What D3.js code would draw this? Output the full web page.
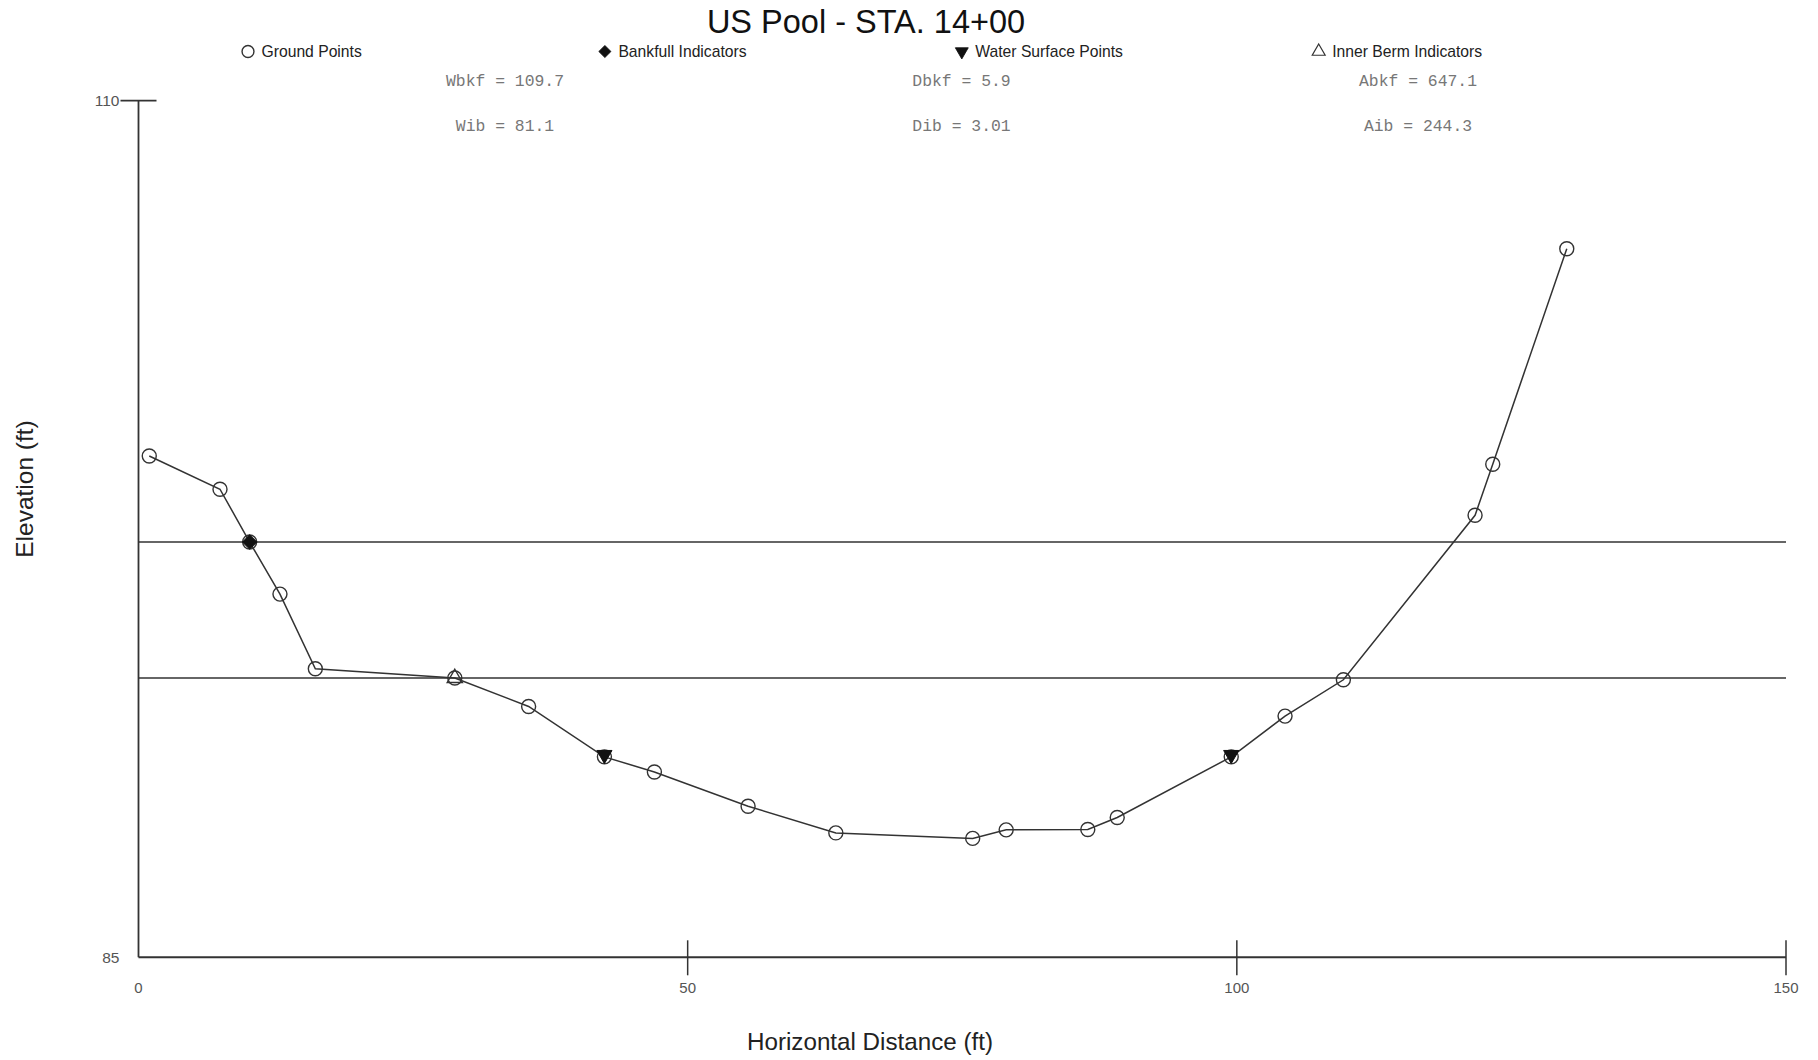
<!DOCTYPE html>
<html>
<head>
<meta charset="utf-8">
<script src="https://cdn.jsdelivr.net/npm/d3@7"></script>
<style>
  html, body { margin: 0; padding: 0; background: #fff; }
  svg { display: block; }
</style>
</head>
<body>
<svg id="chart" width="1818" height="1060"></svg>
<script>
// Cross-section survey: station (ft) and ground elevation (ft)
const stations   = [0.98, 7.42, 10.12, 12.88, 16.10, 28.80, 35.52, 42.42, 46.97, 55.50, 63.49,
                    75.95, 79.00, 86.43, 89.11, 99.49, 104.39, 109.70, 121.69, 123.30, 130.04];
const elevations = [99.63, 98.66, 97.12, 95.60, 93.42, 93.15, 92.32, 90.85, 90.41, 89.41, 88.63,
                    88.47, 88.72, 88.73, 89.08, 90.85, 92.04, 93.10, 97.90, 99.39, 105.68];

// Indicator points
const bankfullStations = [10.12];
const bankfullElevs    = [97.12];
const waterStations    = [42.42, 99.49];
const waterElevs       = [90.85, 90.85];
const bermStations     = [28.80];
const bermElevs        = [93.15];

// Reference stages
const bankfullElevation   = 97.12;
const innerBermElevation  = 93.15;

// Axis ticks
const xTickValues = [0, 50, 100, 150];
const yTickValues = [85, 110];

// Legend and summary statistics
const legendLabels = ["Ground Points", "Bankfull Indicators", "Water Surface Points", "Inner Berm Indicators"];
const statNames  = [["Wbkf", "Wib"], ["Dbkf", "Dib"], ["Abkf", "Aib"]];
const statValues = [["109.7", "81.1"], ["5.9", "3.01"], ["647.1", "244.3"]];

const title = "US Pool - STA. 14+00";
const xTitle = "Horizontal Distance (ft)";
const yTitle = "Elevation (ft)";

const svg = d3.select("#chart");
const ink = "#333";
const sans = "'Liberation Sans', Arial, sans-serif";
const mono = "'Liberation Mono', 'Courier New', monospace";

const x = d3.scaleLinear().domain([0, 150]).range([138.5, 1786]);
const y = d3.scaleLinear().domain([85, 110]).range([957.3, 100.7]);

// Title
svg.append("text")
  .attr("x", 866).attr("y", 33)
  .attr("text-anchor", "middle")
  .attr("font-family", sans).attr("font-size", 32.5)
  .attr("fill", "#111")
  .text(title);

// Symbol generators
const squareSym = d3.symbol().type(d3.symbolSquare).size(100);
const triSym = d3.symbol().type(d3.symbolTriangle).size(100);

function drawSymbol(g, kind, cx, cy, scale = 1) {
  if (kind === 0) {
    g.append("circle").attr("cx", cx).attr("cy", cy).attr("r", 7 * scale)
      .attr("fill", "none").attr("stroke", ink).attr("stroke-width", 1.4);
  } else if (kind === 1) {
    // filled diamond: a square turned 45 degrees
    g.append("path").attr("d", squareSym())
      .attr("transform", `translate(${cx},${cy}) rotate(45) scale(${scale})`)
      .attr("fill", "#111").attr("stroke", "#111").attr("stroke-width", 1);
  } else if (kind === 2) {
    g.append("path").attr("d", triSym())
      .attr("transform", `translate(${cx},${cy}) rotate(180) scale(${scale})`)
      .attr("fill", "#111").attr("stroke", "#111").attr("stroke-width", 1);
  } else {
    g.append("path").attr("d", triSym())
      .attr("transform", `translate(${cx},${cy}) scale(${scale})`)
      .attr("fill", "none").attr("stroke", ink).attr("stroke-width", 1.4);
  }
}

// Legend
const legend = svg.append("g");
legendLabels.forEach((label, i) => {
  const lx = 248 + i * 356.9;
  drawSymbol(legend, i, lx, 51.5, 0.85);
  legend.append("text")
    .attr("x", lx + 13.5).attr("y", 57.3)
    .attr("font-family", sans).attr("font-size", 15.7)
    .attr("fill", "#222")
    .text(label);
});

// Summary statistics
const stats = svg.append("g");
statNames.forEach((col, i) => {
  const cx = 505 + i * 456.5;
  col.forEach((name, j) => {
    stats.append("text")
      .attr("x", cx).attr("y", 86 + j * 45)
      .attr("text-anchor", "middle")
      .attr("font-family", mono).attr("font-size", 16.4)
      .attr("fill", "#777")
      .attr("xml:space", "preserve")
      .text(`${name} = ${statValues[i][j]}`);
  });
});

// Axes
const axes = svg.append("g");
axes.append("line")
  .attr("x1", x(0)).attr("x2", x(0)).attr("y1", y(110)).attr("y2", y(85))
  .attr("stroke", ink).attr("stroke-width", 1.8);
axes.append("line")
  .attr("x1", x(0)).attr("x2", x(150)).attr("y1", y(85)).attr("y2", y(85))
  .attr("stroke", ink).attr("stroke-width", 2);

// X ticks crossing the axis line
axes.selectAll("line.xtick")
  .data(xTickValues.filter(v => v !== 0))
  .join("line").attr("class", "xtick")
  .attr("x1", d => x(d)).attr("x2", d => x(d))
  .attr("y1", y(85) - 17).attr("y2", y(85) + 18)
  .attr("stroke", ink).attr("stroke-width", 1.5);
axes.selectAll("text.xlab")
  .data(xTickValues)
  .join("text").attr("class", "xlab")
  .attr("x", d => x(d)).attr("y", 992.5)
  .attr("text-anchor", "middle")
  .attr("font-family", sans).attr("font-size", 15)
  .attr("fill", "#555")
  .text(d => d);

// Y ticks
axes.selectAll("line.ytick")
  .data(yTickValues.filter(v => v !== 85))
  .join("line").attr("class", "ytick")
  .attr("x1", x(0) - 18).attr("x2", x(0) + 18)
  .attr("y1", d => y(d)).attr("y2", d => y(d))
  .attr("stroke", ink).attr("stroke-width", 1.8);
axes.selectAll("text.ylab")
  .data(yTickValues)
  .join("text").attr("class", "ylab")
  .attr("x", 119.5).attr("y", d => y(d) + 5.5)
  .attr("text-anchor", "end")
  .attr("font-family", sans).attr("font-size", 15.5)
  .attr("fill", "#555")
  .text(d => d);

// Axis titles
svg.append("text")
  .attr("x", 870).attr("y", 1050)
  .attr("text-anchor", "middle")
  .attr("font-family", sans).attr("font-size", 24.2)
  .attr("fill", "#222")
  .text(xTitle);
svg.append("text")
  .attr("transform", "translate(33,489) rotate(-90)")
  .attr("text-anchor", "middle")
  .attr("font-family", sans).attr("font-size", 24.5)
  .attr("fill", "#222")
  .text(yTitle);

// Bankfull and inner berm stage lines
const stages = [bankfullElevation, innerBermElevation];
svg.append("g").selectAll("line")
  .data(stages)
  .join("line")
  .attr("x1", x(0)).attr("x2", x(150))
  .attr("y1", d => y(d)).attr("y2", d => y(d))
  .attr("stroke", ink).attr("stroke-width", 1.6);

// Ground profile
const profile = stations.map((s, i) => [s, elevations[i]]);
svg.append("path")
  .datum(profile)
  .attr("fill", "none").attr("stroke", ink).attr("stroke-width", 1.5)
  .attr("d", d3.line().x(d => x(d[0])).y(d => y(d[1])));

const marks = svg.append("g");
profile.forEach(d => drawSymbol(marks, 0, x(d[0]), y(d[1])));
bermStations.forEach((s, i) => drawSymbol(marks, 3, x(s), y(bermElevs[i])));
waterStations.forEach((s, i) => drawSymbol(marks, 2, x(s), y(waterElevs[i]) - 2));
bankfullStations.forEach((s, i) => drawSymbol(marks, 1, x(s), y(bankfullElevs[i])));
</script>
</body>
</html>
